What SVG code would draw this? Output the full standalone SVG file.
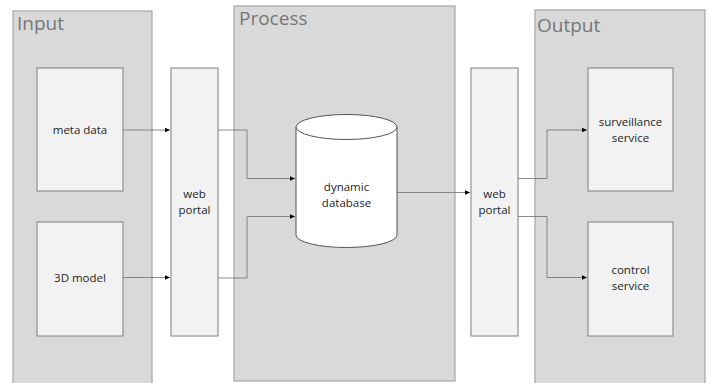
<svg xmlns="http://www.w3.org/2000/svg" width="709" height="383" viewBox="0 0 709 383">
<defs>
<style>
.cont{fill:#d9d9d9;stroke:#a6a6a6;stroke-width:1.2}
.box{fill:#f2f2f2;stroke:#7f7f7f;stroke-width:1}
.title{font-family:"Open Sans","Noto Sans",sans-serif;font-size:19px;fill:#767676}
.lbl{font-family:"Open Sans","Noto Sans",sans-serif;font-size:11.5px;fill:#262626;text-anchor:middle}
.conn{fill:none;stroke:#6f6f6f;stroke-width:0.8}
</style>
<marker id="arr" markerWidth="6" markerHeight="6" refX="5" refY="3" orient="auto" markerUnits="userSpaceOnUse">
<path d="M0,0.8 L5,3 L0,5.2 Z" fill="#000"/>
</marker>
</defs>
<rect width="709" height="383" fill="#ffffff"/>
<g id="input">
<rect class="cont" x="13" y="11" width="139" height="380"/>
<text class="title" x="17" y="30">Input</text>
</g>
<g id="process">
<rect class="cont" x="234" y="6" width="221" height="375"/>
<text class="title" x="239" y="25">Process</text>
</g>
<g id="output">
<rect class="cont" x="535" y="10" width="170" height="380"/>
<text class="title" x="537" y="32">Output</text>
</g>
<g id="metadata">
<rect class="box" x="37" y="68" width="86" height="123"/>
<text class="lbl" x="80" y="134">meta data</text>
</g>
<g id="model3d">
<rect class="box" x="37" y="222" width="86" height="114"/>
<text class="lbl" x="80" y="282">3D model</text>
</g>
<g id="webportal1">
<rect class="box" x="171" y="68" width="47" height="268"/>
<text class="lbl" x="194.5" y="198">web</text>
<text class="lbl" x="194.5" y="214">portal</text>
</g>
<g id="database">
<path d="M296,127 L296,235 A50.5,12.5 0 0 0 397,235 L397,127" fill="#ffffff" stroke="#555" stroke-width="1"/>
<ellipse cx="346.5" cy="127" rx="50.5" ry="12.5" fill="#ffffff" stroke="#555" stroke-width="1"/>
<text class="lbl" x="346.5" y="191">dynamic</text>
<text class="lbl" x="346.5" y="207">database</text>
</g>
<g id="webportal2">
<rect class="box" x="471" y="68" width="47" height="268"/>
<text class="lbl" x="494.5" y="198">web</text>
<text class="lbl" x="494.5" y="214">portal</text>
</g>
<g id="surveillance">
<rect class="box" x="588" y="68" width="85" height="123"/>
<text class="lbl" x="630.5" y="126">surveillance</text>
<text class="lbl" x="630.5" y="142">service</text>
</g>
<g id="control">
<rect class="box" x="588" y="222" width="85" height="114"/>
<text class="lbl" x="630.5" y="274">control</text>
<text class="lbl" x="630.5" y="290">service</text>
</g>
<g id="connectors">
<path class="conn" d="M123,130 L170,130" marker-end="url(#arr)"/>
<path class="conn" d="M123,277.5 L170,277.5" marker-end="url(#arr)"/>
<path class="conn" d="M218,130 L247,130 L247,178.5 L295,178.5" marker-end="url(#arr)"/>
<path class="conn" d="M218,278 L247,278 L247,216.5 L295,216.5" marker-end="url(#arr)"/>
<path class="conn" d="M397,192.5 L470,192.5" marker-end="url(#arr)"/>
<path class="conn" d="M518,178.5 L547,178.5 L547,130 L587,130" marker-end="url(#arr)"/>
<path class="conn" d="M518,216.5 L547,216.5 L547,277.5 L587,277.5" marker-end="url(#arr)"/>
</g>
</svg>
